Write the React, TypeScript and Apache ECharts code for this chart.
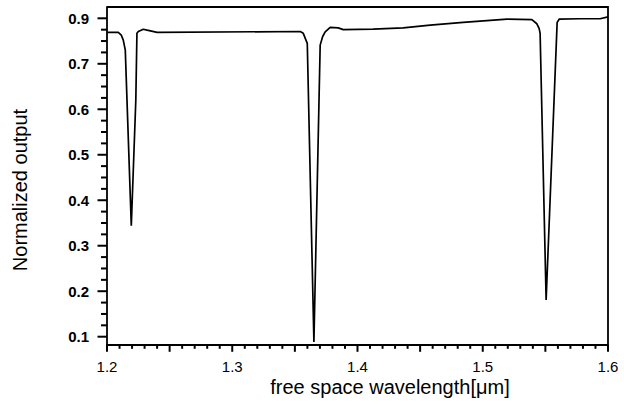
import React, { useEffect, useRef } from "react";
import * as echarts from "echarts";

// Free-space wavelength [µm]
const wavelength = [
  1.2, 1.209, 1.2114, 1.213, 1.2146, 1.2194, 1.223, 1.2239, 1.225, 1.229, 1.232, 1.24,
  1.3543, 1.3567, 1.3599, 1.3652, 1.3702, 1.3722, 1.3742, 1.3782, 1.3846, 1.3886,
  1.4125, 1.4365, 1.458, 1.4843, 1.5195, 1.5392, 1.5432, 1.545, 1.5458, 1.5506,
  1.5594, 1.561, 1.5777, 1.5937, 1.6,
];
// Normalized output
const output = [
  0.769, 0.769, 0.763, 0.752, 0.73, 0.344, 0.62, 0.767, 0.771, 0.776, 0.774, 0.769,
  0.771, 0.767, 0.745, 0.0884, 0.741, 0.76, 0.77, 0.78, 0.779, 0.775,
  0.776, 0.779, 0.785, 0.791, 0.798, 0.797, 0.788, 0.778, 0.767, 0.1806,
  0.791, 0.798, 0.799, 0.799, 0.803,
];

// Tick positions and labels as printed in the figure (the top tick carries "0.9")
const xLabelValues = [1.2, 1.3, 1.4, 1.5, 1.6];
const xMajorTicks = [1.2, 1.25, 1.3, 1.35, 1.4, 1.45, 1.5, 1.55, 1.6];
const xMinorTicks = [
  1.21, 1.22, 1.23, 1.24, 1.26, 1.27, 1.28, 1.29, 1.31, 1.32, 1.33, 1.34, 1.36, 1.37, 1.38, 1.39,
  1.41, 1.42, 1.43, 1.44, 1.46, 1.47, 1.48, 1.49, 1.51, 1.52, 1.53, 1.54, 1.56, 1.57, 1.58, 1.59,
];
const yTickValues = [0.1, 0.2, 0.3, 0.4, 0.5, 0.6, 0.7, 0.8];
const yTickLabels = ["0.1", "0.2", "0.3", "0.4", "0.5", "0.6", "0.7", "0.9"];
const yMinorTicks = [
  0.125, 0.15, 0.175, 0.225, 0.25, 0.275, 0.325, 0.35, 0.375, 0.425, 0.45, 0.475,
  0.525, 0.55, 0.575, 0.625, 0.65, 0.675, 0.725, 0.75, 0.775,
];

const FONT = '"Liberation Sans", Arial, sans-serif';

export default function App() {
  const ref = useRef<HTMLDivElement>(null);
  useEffect(() => {
    if (!ref.current) return;
    const chart = echarts.init(ref.current, null, { renderer: "svg" });
    const X_MIN = 1.2;
    const X_MAX = 1.6;
    // plot frame: top 7px, bottom 344.3px; tick 0.1 at 336.7px, top tick at 18.3px
    const PX_PER_UNIT = (336.7 - 18.3) / 0.7;
    const Y_MIN = 0.1 - (344.3 - 336.7) / PX_PER_UNIT;
    const Y_MAX = 0.8 + (18.3 - 7) / PX_PER_UNIT;

    chart.setOption({
      animation: false,
      backgroundColor: "#fff",
      grid: { left: 107, right: 16, top: 7, height: 337.3, show: false },
      xAxis: {
        type: "value",
        min: X_MIN,
        max: X_MAX,
        axisLine: { show: true, lineStyle: { color: "#000", width: 1.8 } },
        axisTick: { show: false },
        axisLabel: {
          customValues: xLabelValues,
          formatter: (v: number) => v.toFixed(1),
          color: "#000",
          fontSize: 15,
          fontFamily: FONT,
          margin: 15,
        },
        splitLine: { show: false },
      },
      yAxis: {
        type: "value",
        min: Y_MIN,
        max: Y_MAX,
        axisLine: { show: true, lineStyle: { color: "#000", width: 1.8 } },
        axisTick: { show: false },
        axisLabel: {
          customValues: yTickValues,
          formatter: (v: number) => {
            const i = yTickValues.findIndex((t) => Math.abs(t - v) < 1e-6);
            return i >= 0 ? yTickLabels[i] : "";
          },
          color: "#000",
          fontSize: 15,
          fontWeight: "bold",
          fontFamily: FONT,
          margin: 18,
        },
        splitLine: { show: false },
      },
      series: [
        {
          type: "line",
          data: wavelength.map((w, i) => [w, output[i]]),
          symbol: "none",
          smooth: false,
          lineStyle: { color: "#000", width: 1.7 },
          clip: true,
        },
      ],
    });

    // Tick marks and frame, placed through the chart's own coordinate conversion
    const toPx = (x: number, y: number) =>
      chart.convertToPixel({ seriesIndex: 0 }, [x, y]) as number[];
    const tickLine = (x1: number, y1: number, x2: number, y2: number) => ({
      type: "line",
      silent: true,
      z: 10,
      shape: { x1, y1, x2, y2 },
      style: { stroke: "#000", lineWidth: 2 },
    });
    const ticks: any[] = [];
    xMajorTicks.forEach((v) => {
      const p = toPx(v, Y_MIN);
      ticks.push(tickLine(p[0], p[1], p[0], p[1] + 7.5));
    });
    xMinorTicks.forEach((v) => {
      const p = toPx(v, Y_MIN);
      ticks.push(tickLine(p[0], p[1], p[0], p[1] + 4.5));
    });
    yTickValues.forEach((v) => {
      const p = toPx(X_MIN, v);
      ticks.push(tickLine(p[0] - 9.5, p[1], p[0], p[1]));
    });
    yMinorTicks.forEach((v) => {
      const p = toPx(X_MIN, v);
      ticks.push(tickLine(p[0] - 6, p[1], p[0], p[1]));
    });
    const tl = toPx(X_MIN, Y_MAX);
    const tr = toPx(X_MAX, Y_MAX);
    const br = toPx(X_MAX, Y_MIN);

    chart.setOption({
      graphic: [
        ...ticks,
        {
          type: "polyline",
          silent: true,
          shape: { points: [tl, tr, br] },
          style: { stroke: "#000", lineWidth: 1.8, fill: "none" },
        },
        {
          type: "text",
          x: 20,
          y: 190,
          rotation: Math.PI / 2,
          style: {
            text: "Normalized output",
            fill: "#000",
            font: `20px ${FONT}`,
            align: "center",
            verticalAlign: "middle",
          },
        },
        {
          type: "text",
          x: 390,
          y: 387,
          style: {
            text: "free space wavelength[\u03bcm]",
            fill: "#000",
            font: `20px ${FONT}`,
            align: "center",
            verticalAlign: "middle",
          },
        },
      ],
    });
    return () => chart.dispose();
  }, []);
  return (
    <div
      ref={ref}
      style={{ position: "absolute", left: 0, top: 0, width: 624, height: 405 }}
    />
  );
}
